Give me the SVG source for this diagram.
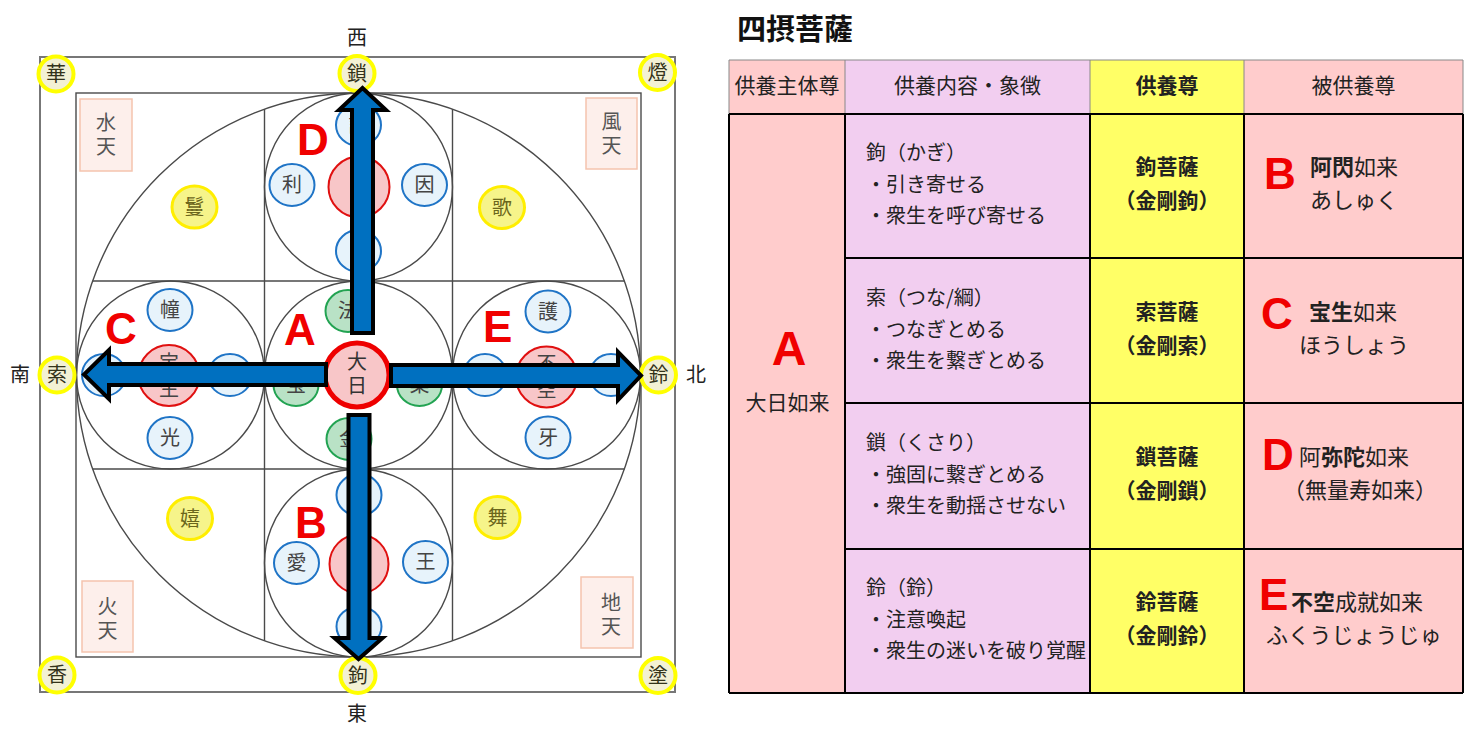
<svg xmlns="http://www.w3.org/2000/svg" width="1479" height="732" viewBox="0 0 1479 732">
<style>
.jp{font-family:"Noto Sans CJK JP","Noto Sans",sans-serif}
.ln{fill:none;stroke:#4a4a4a;stroke-width:1.4}
.bc{fill:#e7f3fb;stroke:#1f74c6;stroke-width:2}
.rc{fill:#f8c6c8;stroke:#e01010;stroke-width:2}
.gc{fill:#b9e2c6;stroke:#22a352;stroke-width:2}
.yi{fill:#f6f48a;stroke:#ffee00;stroke-width:3}
.yo{fill:#f3f1d4;stroke:#ffff00;stroke-width:4}
.pk{fill:#fdefeb;stroke:#f5c4ae;stroke-width:1.5}
.ct{font-family:"Noto Sans CJK JP",sans-serif;font-size:20px;fill:#444;text-anchor:middle}
.yt{font-family:"Noto Sans CJK JP",sans-serif;font-size:20px;fill:#6b661c;text-anchor:middle}
.ot{font-family:"Noto Sans CJK JP",sans-serif;font-size:20px;fill:#33331a;text-anchor:middle}
.pt{font-family:"Noto Sans CJK JP",sans-serif;font-size:20px;fill:#555;text-anchor:middle;writing-mode:vertical-rl;letter-spacing:4px}
.vt{writing-mode:vertical-rl}
.dt{font-family:"Noto Sans CJK JP",sans-serif;font-size:20px;fill:#222;text-anchor:middle}
.lt{font-family:"Liberation Sans",Arial,sans-serif;font-weight:bold;fill:#f00000}
.ar{fill:#0070c0;stroke:#000;stroke-width:4;stroke-linejoin:miter}
.tb{font-family:"Noto Sans CJK JP",sans-serif;font-size:20px;fill:#222}
.tc{font-family:"Noto Sans CJK JP",sans-serif;font-size:22px;fill:#222}
.th{font-family:"Noto Sans CJK JP",sans-serif;font-size:21px;fill:#222;text-anchor:middle}
.bd{font-weight:bold}
.gl{stroke:#888;stroke-width:1;fill:none}
.bl{stroke:#000;stroke-width:2;fill:none}
</style>

<g id="mandala-frame">
  <rect x="40" y="57" width="635" height="635" fill="none" stroke="#777" stroke-width="2"/>
  <rect x="76" y="93" width="565" height="564" class="ln"/>
  <circle cx="358.5" cy="375" r="282" class="ln"/>
  <line x1="264.5" y1="109" x2="264.5" y2="641" class="ln"/>
  <line x1="452.5" y1="109" x2="452.5" y2="641" class="ln"/>
  <line x1="92.5" y1="281" x2="624.5" y2="281" class="ln"/>
  <line x1="92.5" y1="469" x2="624.5" y2="469" class="ln"/>
  <circle cx="358.5" cy="187" r="94" class="ln"/>
  <circle cx="358.5" cy="563" r="94" class="ln"/>
  <circle cx="170.5" cy="375" r="94" class="ln"/>
  <circle cx="546.5" cy="375" r="94" class="ln"/>
  <circle cx="358.5" cy="375" r="94" class="ln"/>
</g>

<g id="directions">
  <text x="357" y="45" class="dt">西</text>
  <text x="357" y="721" class="dt">東</text>
  <text x="20" y="382" class="dt">南</text>
  <text x="696" y="382" class="dt">北</text>
</g>

<g id="outer-yellow">
  <g id="n-hua"><circle cx="56" cy="74" r="17.5" class="yo"/><text x="56" y="81" class="ot">華</text></g>
  <g id="n-sa"><circle cx="357" cy="73.5" r="17.5" class="yo"/><text x="357" y="80.5" class="ot">鎖</text></g>
  <g id="n-tou"><circle cx="657.5" cy="72.5" r="17.5" class="yo"/><text x="657.5" y="79.5" class="ot">燈</text></g>
  <g id="n-saku"><circle cx="57" cy="375" r="17.5" class="yo"/><text x="57" y="382" class="ot">索</text></g>
  <g id="n-rei"><circle cx="658.5" cy="375" r="17.5" class="yo"/><text x="658.5" y="382" class="ot">鈴</text></g>
  <g id="n-kou"><circle cx="57" cy="675" r="17.5" class="yo"/><text x="57" y="682" class="ot">香</text></g>
  <g id="n-ku"><circle cx="358" cy="675.5" r="17.5" class="yo"/><text x="358" y="682.5" class="ot">鉤</text></g>
  <g id="n-zu"><circle cx="658" cy="675.5" r="17.5" class="yo"/><text x="658" y="682.5" class="ot">塗</text></g>
</g>

<g id="inner-yellow">
  <g id="n-man"><ellipse cx="194.5" cy="207" rx="22.5" ry="21" class="yi"/><text x="194.5" y="214" class="yt">鬘</text></g>
  <g id="n-ka"><ellipse cx="502" cy="207.5" rx="22.5" ry="21" class="yi"/><text x="502" y="214.5" class="yt">歌</text></g>
  <g id="n-ki"><ellipse cx="190" cy="518.5" rx="22.5" ry="21" class="yi"/><text x="190" y="525.5" class="yt">嬉</text></g>
  <g id="n-bu"><ellipse cx="497.5" cy="517.5" rx="22.5" ry="21" class="yi"/><text x="497.5" y="524.5" class="yt">舞</text></g>
</g>

<g id="devas">
  <g id="n-suiten"><rect x="80" y="99" width="52" height="72" class="pk"/><text x="106" y="136" class="pt">水天</text></g>
  <g id="n-fuuten"><rect x="586" y="98" width="51" height="71" class="pk"/><text x="611.5" y="135" class="pt">風天</text></g>
  <g id="n-katen"><rect x="82" y="581" width="51" height="71" class="pk"/><text x="107.5" y="620" class="pt">火天</text></g>
  <g id="n-chiten"><rect x="581" y="577" width="52" height="71" class="pk"/><text x="611" y="616" class="pt">地天</text></g>
</g>

<g id="group-D">
  <ellipse cx="358.5" cy="125" rx="22.5" ry="21" class="bc"/><text x="358.5" y="132" class="ct">語</text>
  <ellipse cx="292" cy="185" rx="22.5" ry="21" class="bc"/><text x="292" y="192" class="ct">利</text>
  <ellipse cx="424.5" cy="185" rx="22.5" ry="21" class="bc"/><text x="424.5" y="192" class="ct">因</text>
  <ellipse cx="358.5" cy="251" rx="22.5" ry="21" class="bc"/>
  <circle cx="359" cy="187" r="30.5" class="rc"/>
</g>

<g id="group-C">
  <ellipse cx="170" cy="310" rx="22.5" ry="21" class="bc"/><text x="170" y="317" class="ct">幢</text>
  <ellipse cx="170" cy="438" rx="22.5" ry="21" class="bc"/><text x="170" y="445" class="ct">光</text>
  <ellipse cx="104" cy="375" rx="22" ry="21" class="bc"/>
  <ellipse cx="230" cy="375" rx="22" ry="21" class="bc"/>
  <circle cx="169" cy="375.5" r="30.5" class="rc"/>
  <text x="169" y="378" class="ct vt" letter-spacing="6">宝生</text>
</g>

<g id="group-E">
  <ellipse cx="548" cy="311.5" rx="22.5" ry="21" class="bc"/><text x="548" y="318.5" class="ct">護</text>
  <ellipse cx="548" cy="437.5" rx="22.5" ry="21" class="bc"/><text x="548" y="444.5" class="ct">牙</text>
  <ellipse cx="485" cy="375" rx="21.5" ry="21" class="bc"/>
  <ellipse cx="611" cy="375" rx="21.5" ry="21" class="bc"/>
  <circle cx="546.5" cy="377" r="30.5" class="rc"/>
  <text x="546.5" y="379" class="ct vt" letter-spacing="6">不空</text>
</g>

<g id="group-B">
  <ellipse cx="359" cy="495" rx="22.5" ry="21" class="bc"/>
  <ellipse cx="296.5" cy="563" rx="22.5" ry="21" class="bc"/><text x="296.5" y="570" class="ct">愛</text>
  <ellipse cx="425.5" cy="562" rx="22.5" ry="21" class="bc"/><text x="425.5" y="569" class="ct">王</text>
  <ellipse cx="359" cy="626.5" rx="22.5" ry="20" class="bc"/>
  <circle cx="359" cy="564" r="29.5" class="rc"/>
</g>

<g id="group-A">
  <ellipse cx="348" cy="311" rx="22.5" ry="21" class="gc"/><text x="348" y="318" class="ct">法</text>
  <ellipse cx="296" cy="385" rx="22.5" ry="21" class="gc"/><text x="296" y="392" class="ct">宝</text>
  <ellipse cx="419.5" cy="385" rx="22.5" ry="21" class="gc"/><text x="419.5" y="392" class="ct">業</text>
  <ellipse cx="349" cy="439" rx="22.5" ry="21" class="gc"/><text x="349" y="446" class="ct">金</text>
  <circle cx="357" cy="375" r="32" fill="#f8c6c8" stroke="#ee0000" stroke-width="5"/>
  <text x="357" y="375" class="ct vt" letter-spacing="4" style="fill:#333">大日</text>
</g>

<g id="connectors">
  <polygon class="ar" points="352,333 352,110 339,110 362.5,88 386,110 373,110 373,333"/>
  <polygon class="ar" points="348.5,415 348.5,638 334.5,638 358.5,659 382.5,638 369.5,638 369.5,415"/>
  <polygon class="ar" points="326,364 109,364 109,350 84,374.5 109,399 109,385 326,385"/>
  <polygon class="ar" points="391,365 618,365 618,352 641,375.5 618,400 618,386 391,386"/>
</g>

<g id="mandala-letters">
  <text x="297" y="155" class="lt" font-size="44">D</text>
  <text x="284" y="345" class="lt" font-size="44">A</text>
  <text x="105" y="344" class="lt" font-size="44">C</text>
  <text x="295" y="538" class="lt" font-size="44">B</text>
  <text x="483" y="342" class="lt" font-size="44">E</text>
</g>

<g id="table">
  <text x="737" y="40" class="jp bd" font-size="29" fill="#111">四摂菩薩</text>
  <rect x="729" y="60" width="116" height="633" fill="#ffcccc"/>
  <rect x="845" y="60" width="245" height="633" fill="#f2cef0"/>
  <rect x="1090" y="60" width="154" height="633" fill="#ffff66"/>
  <rect x="1244" y="60" width="219" height="633" fill="#ffcccc"/>
  <path class="gl" d="M729,60 H1463 M729,60 V114 M845,60 V114 M1090,60 V114 M1244,60 V114 M1463,60 V114"/>
  <path class="bl" d="M729,114 H1463 M845,258 H1463 M845,403 H1463 M845,549 H1463 M729,693 H1463 M729,114 V693 M845,114 V693 M1090,114 V693 M1244,114 V693 M1463,114 V693"/>

  <text x="787" y="92.5" class="th">供養主体尊</text>
  <text x="967.5" y="92.5" class="th">供養内容・象徴</text>
  <text x="1167" y="92.5" class="th bd">供養尊</text>
  <text x="1353.5" y="92.5" class="th">被供養尊</text>

  <text x="789" y="365" class="lt" font-size="48" text-anchor="middle">A</text>
  <text x="787.5" y="410" class="th">大日如来</text>

  <text x="866" y="160" class="tb">鉤（かぎ）</text>
  <text x="866" y="192" class="tb">・引き寄せる</text>
  <text x="866" y="223" class="tb">・衆生を呼び寄せる</text>
  <text x="866" y="305" class="tb">索（つな/綱）</text>
  <text x="866" y="337" class="tb">・つなぎとめる</text>
  <text x="866" y="368" class="tb">・衆生を繋ぎとめる</text>
  <text x="866" y="450" class="tb">鎖（くさり）</text>
  <text x="866" y="482" class="tb">・強固に繋ぎとめる</text>
  <text x="866" y="513" class="tb">・衆生を動揺させない</text>
  <text x="866" y="595" class="tb">鈴（鈴）</text>
  <text x="866" y="627" class="tb">・注意喚起</text>
  <text x="866" y="658" class="tb">・衆生の迷いを破り覚醒</text>

  <text x="1167" y="174" class="th bd">鉤菩薩</text>
  <text x="1167" y="208" class="th bd">（金剛鉤）</text>
  <text x="1167" y="319" class="th bd">索菩薩</text>
  <text x="1167" y="353" class="th bd">（金剛索）</text>
  <text x="1167" y="464" class="th bd">鎖菩薩</text>
  <text x="1167" y="498" class="th bd">（金剛鎖）</text>
  <text x="1167" y="609" class="th bd">鈴菩薩</text>
  <text x="1167" y="643" class="th bd">（金剛鈴）</text>

  <text x="1264" y="189" class="lt" font-size="44">B</text>
  <text x="1310" y="175" class="tc"><tspan class="bd">阿閃</tspan>如来</text>
  <text x="1310" y="208" class="tc">あしゅく</text>
  <text x="1261" y="329" class="lt" font-size="44">C</text>
  <text x="1309" y="320" class="tc"><tspan class="bd">宝生</tspan>如来</text>
  <text x="1299" y="353" class="tc">ほうしょう</text>
  <text x="1262" y="470" class="lt" font-size="44">D</text>
  <text x="1299" y="465" class="tc">阿<tspan class="bd">弥陀</tspan>如来</text>
  <text x="1283" y="498" class="tc">（無量寿如来）</text>
  <text x="1259" y="610" class="lt" font-size="44">E</text>
  <text x="1291" y="610" class="tc"><tspan class="bd">不空</tspan>成就如来</text>
  <text x="1266" y="643" class="tc">ふくうじょうじゅ</text>
</g>
</svg>
